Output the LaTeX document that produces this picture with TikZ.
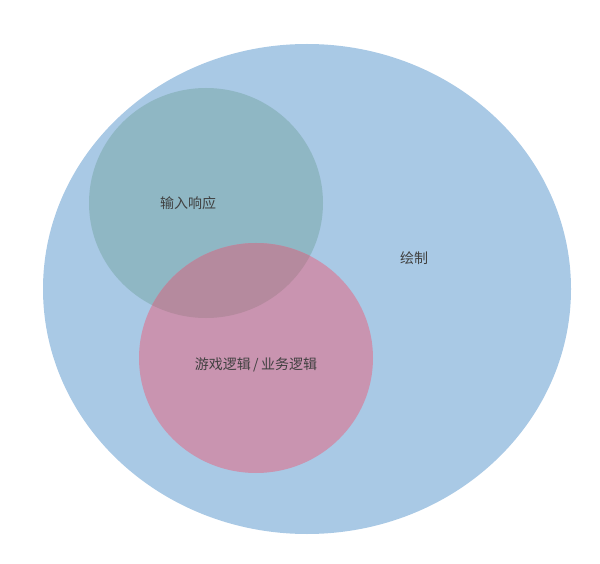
\documentclass[tikz,border=0pt]{standalone}
\usepackage{fontspec}
\newfontfamily\cjk{Noto Sans CJK SC}
\definecolor{blueA}{HTML}{A9C9E5}
\definecolor{greenA}{HTML}{8FB7C4}
\definecolor{pinkA}{HTML}{C994B0}
\definecolor{overA}{HTML}{B58A9E}
\definecolor{txt}{HTML}{404040}
\begin{document}
\begin{tikzpicture}[x=1pt,y=-1pt,
  lbl/.style={text=txt,font=\cjk\fontsize{14}{16}\selectfont,inner sep=0pt}]
\useasboundingbox (0,0) rectangle (600,564);
\fill[blueA] (307,289) ellipse [x radius=264, y radius=245];
\fill[greenA] (206,203) ellipse [x radius=117, y radius=115];
\fill[pinkA] (256,358) ellipse [x radius=117, y radius=115];
\begin{scope}
  \clip (206,203) ellipse [x radius=117, y radius=115];
  \fill[overA] (256,358) ellipse [x radius=117, y radius=115];
\end{scope}
\node[lbl] (input) at (188,203) {输入响应};
\node[lbl] (draw) at (414,258) {绘制};
\node[lbl] (logic) at (256,365) {游戏逻辑\,/\,业务逻辑};
\end{tikzpicture}
\end{document}
